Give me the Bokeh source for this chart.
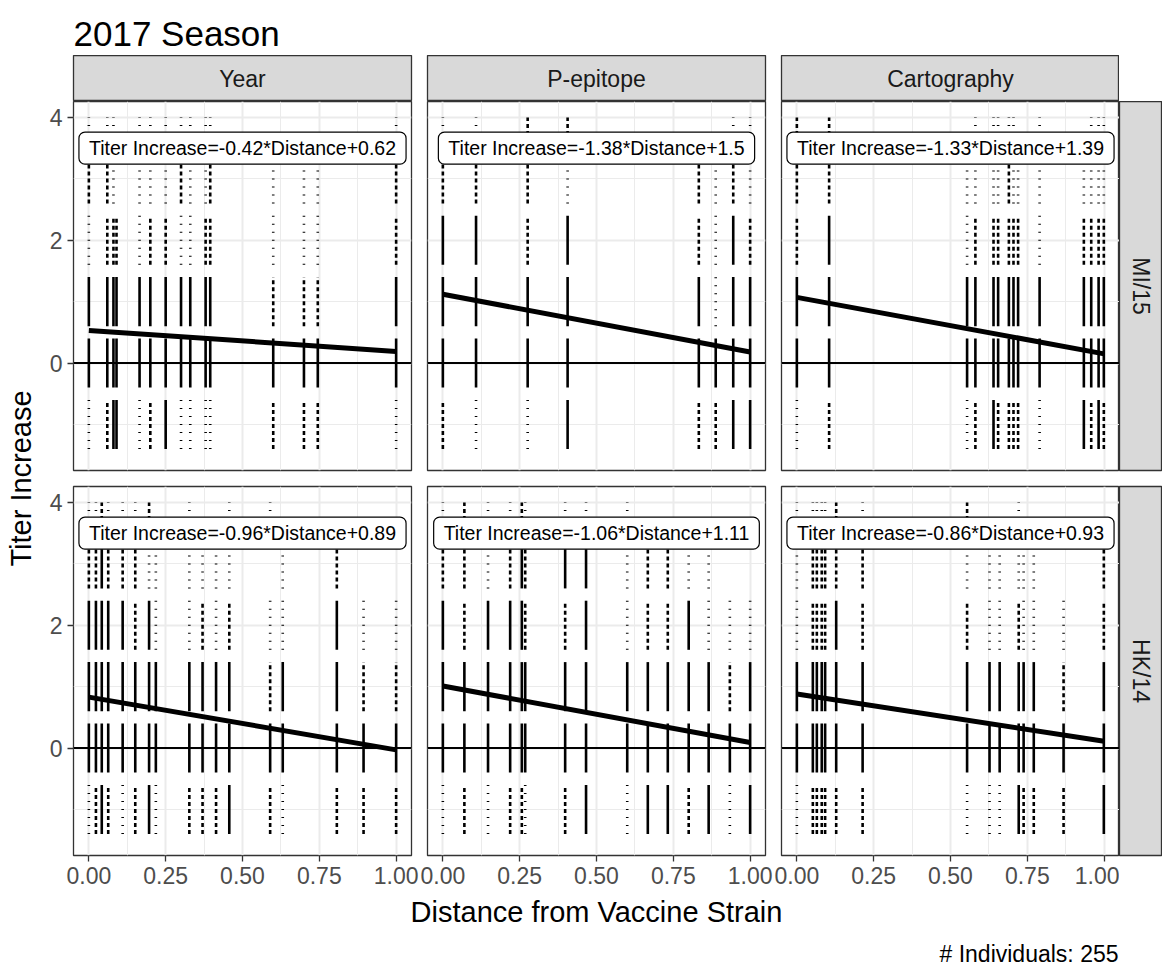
import math
from bokeh.plotting import figure
from bokeh.layouts import row, column
from bokeh.models import Range1d, FixedTicker, LinearAxis, Label, Span, Spacer, Grid
from bokeh.embed import file_html
from bokeh.resources import INLINE

FONT = "Liberation Sans"

# ---------------- data ----------------
title_text = "2017 Season"
methods = ["Year", "P-epitope", "Cartography"]
strains = ["MI/15", "HK/14"]
x_title = "Distance from Vaccine Strain"
y_title = "Titer Increase"
caption = "# Individuals: 255"

levels = [-1, 0, 1, 2, 3, 4]          # titer-increase levels (jittered +-0.4 in the original)
x_ticks = [0, 0.25, 0.5, 0.75, 1.0]
x_minor = [0.125, 0.375, 0.625, 0.875]
x_tick_labels = ["0.00", "0.25", "0.50", "0.75", "1.00"]
y_ticks = [0, 2, 4]
y_minor = [-1, 1, 3]
y_tick_labels = ["0", "2", "4"]

# density of points per column and level (0 none, 1 sparse, 2 medium, 3 dense)
year_mi15_x = [0.00, 0.06, 0.08, 0.09, 0.165, 0.20, 0.25, 0.30, 0.33, 0.38, 0.395, 0.60, 0.70, 0.745, 1.00]
year_mi15_d = [[1,3,3,1,2,1],[2,3,3,2,2,1],[3,3,3,2,1,1],[3,3,3,2,0,0],[1,3,3,1,1,1],
               [2,3,3,2,1,1],[3,3,3,2,1,1],[1,3,3,1,2,1],[1,3,3,1,1,1],[1,3,3,2,1,1],
               [1,3,3,2,2,1],[2,3,2,1,1,0],[2,3,2,1,1,0],[2,3,2,1,1,0],[1,3,3,2,2,1]]

pep_mi15_x = [0.00, 0.108, 0.276, 0.406, 0.833, 0.888, 0.945, 1.00]
pep_mi15_d = [[2,3,3,3,2,1],[1,3,3,3,2,1],[1,3,3,2,2,2],[3,3,3,3,1,2],[2,3,3,2,2,0],
              [2,3,1,1,1,0],[3,3,3,3,2,1],[3,3,3,2,1,1]]

cart_mi15_x = [0.00, 0.105, 0.554, 0.581, 0.64, 0.655, 0.69, 0.705, 0.72, 0.79, 0.934, 0.958, 0.982, 0.999]
cart_mi15_d = [[1,3,3,2,2,2],[2,3,3,3,2,2],[1,3,3,1,1,0],[2,3,3,2,1,1],[3,3,3,2,1,1],
               [2,3,3,2,1,1],[2,3,3,2,2,1],[2,3,3,2,1,1],[2,3,3,2,1,0],[1,3,3,1,1,1],
               [3,3,3,2,1,0],[2,3,3,2,1,1],[3,3,3,2,1,1],[2,3,3,2,1,1]]

year_hk14_x = [0.00, 0.023, 0.042, 0.063, 0.11, 0.151, 0.196, 0.218, 0.327, 0.37, 0.414, 0.457,
               0.59, 0.631, 0.807, 0.894, 1.00]
year_hk14_d = [[1,3,3,3,2,1],[2,3,3,3,2,1],[3,3,3,3,3,2],[2,3,3,3,2,1],[1,3,3,3,2,1],
               [2,3,3,2,2,1],[3,3,3,3,1,2],[1,3,3,1,1,0],[2,3,3,1,1,1],[2,3,3,2,1,0],
               [2,3,3,1,1,0],[3,3,3,2,1,1],[2,3,2,1,0,1],[1,3,3,1,1,0],[2,3,3,3,2,0],
               [2,3,2,1,0,0],[2,3,2,1,0,0]]

pep_hk14_x = [0.00, 0.07, 0.147, 0.219, 0.257, 0.268, 0.398, 0.466, 0.60, 0.667, 0.732, 0.80, 0.865, 0.934, 1.00]
pep_hk14_d = [[1,3,3,3,2,1],[2,3,3,2,2,2],[1,3,3,3,1,1],[2,3,3,3,2,1],[2,3,3,3,3,2],
              [1,3,3,2,2,1],[2,3,3,2,3,1],[3,3,3,3,3,1],[1,3,3,1,1,1],[3,3,3,2,2,0],
              [3,3,3,2,2,0],[2,3,3,3,1,0],[3,3,3,1,1,0],[1,3,2,1,0,0],[3,3,3,1,0,0]]

cart_hk14_x = [0.00, 0.052, 0.065, 0.081, 0.092, 0.128, 0.214, 0.554, 0.627, 0.66, 0.722, 0.738, 0.771, 0.868, 0.999]
cart_hk14_d = [[1,3,3,1,1,1],[2,3,3,2,2,1],[2,3,3,2,2,1],[2,3,3,2,2,1],[2,3,3,2,2,1],
               [2,3,3,3,2,2],[2,3,3,2,2,1],[1,3,3,2,1,2],[1,3,3,1,1,0],[1,3,3,1,1,0],
               [3,3,3,2,1,1],[2,3,3,1,1,0],[2,3,3,1,1,0],[2,3,2,1,0,0],[3,3,3,2,2,0]]

panel_x = [[year_mi15_x, pep_mi15_x, cart_mi15_x], [year_hk14_x, pep_hk14_x, cart_hk14_x]]
panel_d = [[year_mi15_d, pep_mi15_d, cart_mi15_d], [year_hk14_d, pep_hk14_d, cart_hk14_d]]

# fitted line values at distance 0 and 1
fit_x = [0.0, 1.0]
fit_at_0 = [[0.53, 1.12, 1.07], [0.83, 1.01, 0.88]]
fit_at_1 = [[0.19, 0.18, 0.15], [-0.03, 0.09, 0.11]]

eq_labels = [["Titer Increase=-0.42*Distance+0.62", "Titer Increase=-1.38*Distance+1.5",
              "Titer Increase=-1.33*Distance+1.39"],
             ["Titer Increase=-0.96*Distance+0.89", "Titer Increase=-1.06*Distance+1.11",
              "Titer Increase=-0.86*Distance+0.93"]]
eq_x = 0.5
eq_y = 3.5
jitter = 0.4
y_cap = 4.0
baseline = 0

# ---------------- layout constants ----------------
FW, FH = 338, 369
STRIP_H = 46
RSTRIP_W = 43
BORDER_C = "#333333"

dash_styles = {1: "1 7", 2: "4 3", 3: "solid"}


def blank(width, height, xr, yr, **kw):
    p = figure(width=width, height=height, x_range=xr, y_range=yr,
               output_backend="svg", toolbar_location=None,
               x_axis_location=None, y_axis_location=None,
               min_border_left=kw.get("left", 0), min_border_right=kw.get("right", 0),
               min_border_top=kw.get("top", 0), min_border_bottom=kw.get("bottom", 0),
               background_fill_color=kw.get("bg", "white"), border_fill_color="white",
               outline_line_color=kw.get("outline", None))
    for g in p.grid:
        g.visible = False
    return p


def style_axis(ax):
    ax.axis_line_color = None
    ax.major_tick_out = 6
    ax.major_tick_in = 0
    ax.minor_tick_out = 0
    ax.minor_tick_in = 0
    ax.major_tick_line_color = BORDER_C
    ax.major_tick_line_width = 1.3
    ax.major_label_text_font = FONT
    ax.major_label_text_font_size = "23px"
    ax.major_label_text_color = "#4D4D4D"
    ax.major_label_standoff = 5


def make_panel(r, c):
    left = 33 if c == 0 else 8
    right = 0 if c == 2 else 8
    top = 0 if r == 0 else 8
    bottom = 8 if r == 0 else 40
    p = blank(left + FW + right, top + FH + bottom, Range1d(-0.05, 1.05), Range1d(-1.75, 4.26),
              left=left, right=right, top=top, bottom=bottom, outline=BORDER_C)
    p.outline_line_width = 1.3
    p.add_layout(Grid(dimension=0, ticker=FixedTicker(ticks=x_ticks, minor_ticks=x_minor),
                      grid_line_color="#EBEBEB", grid_line_width=2,
                      minor_grid_line_color="#EBEBEB", minor_grid_line_width=1))
    p.add_layout(Grid(dimension=1, ticker=FixedTicker(ticks=y_ticks, minor_ticks=y_minor),
                      grid_line_color="#EBEBEB", grid_line_width=2,
                      minor_grid_line_color="#EBEBEB", minor_grid_line_width=1))
    if c == 0:
        ya = LinearAxis(ticker=FixedTicker(ticks=y_ticks),
                        major_label_overrides=dict(zip(y_ticks, y_tick_labels)))
        style_axis(ya)
        p.add_layout(ya, "left")
    if r == 1:
        xa = LinearAxis(ticker=FixedTicker(ticks=x_ticks),
                        major_label_overrides=dict(zip(x_ticks, x_tick_labels)))
        style_axis(xa)
        p.add_layout(xa, "below")

    xs, dens = panel_x[r][c], panel_d[r][c]
    for style in (1, 2, 3):
        x0, y0, y1 = [], [], []
        for xv, drow in zip(xs, dens):
            for lev, dv in zip(levels, drow):
                if dv == style:
                    x0.append(xv)
                    y0.append(lev - jitter)
                    y1.append(min(lev + jitter, y_cap))
        p.segment(x0=x0, y0=y0, x1=x0, y1=y1, line_color="black", line_width=2.6,
                  line_dash=dash_styles[style], line_cap="butt")
    p.add_layout(Span(location=baseline, dimension="width", line_color="black", line_width=2))
    p.line(x=fit_x, y=[fit_at_0[r][c], fit_at_1[r][c]], line_color="black", line_width=5)
    p.add_layout(Label(x=eq_x, y=eq_y, text=eq_labels[r][c], text_font=FONT,
                       text_font_size="19.5px", text_color="black",
                       text_align="center", text_baseline="middle",
                       background_fill_color="white", border_line_color="black",
                       border_line_width=1.2, border_radius=6,
                       padding=dict(left=10, right=10, top=5, bottom=5)))
    return p


def make_top_strip(c):
    left = 33 if c == 0 else 8
    right = 0 if c == 2 else 8
    p = blank(left + FW + right, STRIP_H, Range1d(0, 1), Range1d(0, 1),
              left=left, right=right, bg="#D9D9D9", outline=BORDER_C)
    p.outline_line_width = 1.3
    p.add_layout(Label(x=0.5, y=0.5, text=methods[c], text_font=FONT, text_font_size="23px",
                       text_color="#1A1A1A", text_align="center", text_baseline="middle"))
    return p


def make_right_strip(r):
    top = 0 if r == 0 else 8
    bottom = 8 if r == 0 else 40
    p = blank(RSTRIP_W, top + FH + bottom, Range1d(0, 1), Range1d(0, 1),
              top=top, bottom=bottom, bg="#D9D9D9", outline=BORDER_C)
    p.outline_line_width = 1.3
    p.add_layout(Label(x=0.5, y=0.5, text=strains[r], text_font=FONT, text_font_size="23px",
                       text_color="#1A1A1A", text_align="center", text_baseline="middle",
                       angle=-math.pi / 2))
    return p


# title
title_fig = blank(1162, 55, Range1d(0, 1162), Range1d(55, 0))
title_fig.add_layout(Label(x=73, y=33, text=title_text, text_font=FONT, text_font_size="35px",
                           text_color="black", text_align="left", text_baseline="alphabetic"))

# y title
ytitle_fig = blank(40, 840, Range1d(0, 40), Range1d(840, 0))
ytitle_fig.add_layout(Label(x=20, y=423, text=y_title, text_font=FONT, text_font_size="29px",
                            text_color="black", text_align="center", text_baseline="middle",
                            angle=math.pi / 2))

# x title + caption
xtitle_fig = blank(1162, 71, Range1d(0, 1162), Range1d(71, 0))
xtitle_fig.add_layout(Label(x=596, y=16, text=x_title, text_font=FONT, text_font_size="29px",
                            text_color="black", text_align="center", text_baseline="middle"))
xtitle_fig.add_layout(Label(x=1118, y=58, text=caption, text_font=FONT, text_font_size="23px",
                            text_color="black", text_align="right", text_baseline="middle"))

strip_row = row(make_top_strip(0), make_top_strip(1), make_top_strip(2),
                Spacer(width=RSTRIP_W, height=STRIP_H))
r1 = row(make_panel(0, 0), make_panel(0, 1), make_panel(0, 2), make_right_strip(0))
r2 = row(make_panel(1, 0), make_panel(1, 1), make_panel(1, 2), make_right_strip(1))
right_col = column(strip_row, r1, r2)
mid = row(ytitle_fig, right_col)
layout = column(title_fig, mid, xtitle_fig)

open("out.html", "w").write(file_html(layout, INLINE))
